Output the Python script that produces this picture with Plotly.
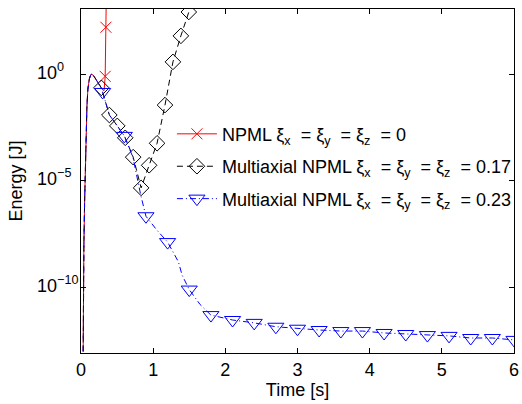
import numpy as np
import plotly.graph_objects as go

# ---- data -------------------------------------------------------------
# shared start-up transient (all three runs coincide here)
t_rise = [0.030, 0.034, 0.040, 0.050, 0.062, 0.072, 0.082, 0.095, 0.115,
          0.135, 0.150, 0.175, 0.200, 0.230, 0.260]
e_rise = [1e-13, 1e-10, 1e-8, 1e-6, 1e-4, 3e-3, 3e-2, 0.2, 0.6,
          0.95, 1.0, 0.85, 0.65, 0.45, 0.30]

# NPML, xi = 0 (unstable)
t_npml = [0.290, 0.320, 0.335, 0.345, 0.352]
e_npml = [0.20, 0.17, 0.80, 160.0, 1e4]
t_npml_mk = [0.335, 0.345]
e_npml_mk = [0.80, 160.0]

# multiaxial NPML, xi = 0.17
t_m17_mk = [0.282, 0.393, 0.503, 0.613, 0.723, 0.833, 0.944, 1.054,
            1.164, 1.274, 1.384, 1.494]
e_m17_mk = [0.23, 1.23e-2, 3.8e-3, 1.05e-3, 1.3e-4, 4.7e-6, 5.4e-5,
            5.8e-4, 3.6e-2, 3.8, 63.0, 830.0]
t_m17_tail = [1.530]
e_m17_tail = [1e4]

# multiaxial NPML, xi = 0.23
t_m23_mk = [0.3, 0.6, 0.9, 1.2, 1.5, 1.8, 2.1, 2.4, 2.7, 3.0, 3.3, 3.6,
            3.9, 4.2, 4.5, 4.8, 5.1, 5.4, 5.7, 6.0]
e_m23_mk = [0.148, 1.29e-3, 2.2e-7, 1.35e-8, 8e-11, 5.1e-12, 3.0e-12,
            2.2e-12, 1.45e-12, 1.17e-12, 1.02e-12, 9.1e-13, 9.1e-13,
            7.4e-13, 6.6e-13, 5.9e-13, 5.4e-13, 4.3e-13, 4.3e-13, 3.5e-13]
t_m23_extra = [0.393, 0.503, 0.72, 0.83, 1.05, 1.35, 1.40, 1.65]
e_m23_extra = [1.23e-2, 3.8e-3, 1.26e-4, 2.0e-6, 5.0e-8, 1.6e-9, 3.9e-10, 1.6e-11]

y_ticks = [1e-10, 1e-5, 1.0]
y_tick_text = ["10<sup>−10</sup>", "10<sup>−5</sup>", "10<sup>0</sup>"]
x_ticks = [0, 1, 2, 3, 4, 5, 6]

NB = "\u00a0"
XI = (f"ξ<sub>x</sub>{NB} = ξ<sub>y</sub>{NB} = ξ<sub>z</sub>{NB} = ")
names = ["NPML " + XI + "0",
         "Multiaxial NPML " + XI + "0.17",
         "Multiaxial NPML " + XI + "0.23"]

FONT = "Liberation Sans, Arial, Helvetica, sans-serif"
FS = 18


def merge(ta, ea, tb, eb):
    t = np.concatenate([ta, tb])
    e = np.concatenate([ea, eb])
    o = np.argsort(t, kind="stable")
    return t[o], e[o]


t_r, e_r = merge(t_rise, e_rise, t_npml, e_npml)
t_b, e_b = merge(t_rise, e_rise, t_m17_mk + t_m17_tail, e_m17_mk + e_m17_tail)
t_u, e_u = merge(t_rise, e_rise, t_m23_mk + t_m23_extra, e_m23_mk + e_m23_extra)

series = [
    dict(t=t_r, e=e_r, tm=t_npml_mk, em=e_npml_mk, color="#ff0000",
         dash="solid", symbol="x-thin-open", size=11),
    dict(t=t_b, e=e_b, tm=t_m17_mk, em=e_m17_mk, color="#000000",
         dash="6px,4px", symbol="diamond-open", size=12),
    dict(t=t_u, e=e_u, tm=t_m23_mk, em=e_m23_mk, color="#0000ff",
         dash="6px,3px,1px,3px", symbol="triangle-down-open", size=14),
]

fig = go.Figure()
for i, s in enumerate(series):
    fig.add_trace(go.Scatter(
        x=s["t"], y=s["e"], mode="lines", showlegend=False,
        line=dict(color=s["color"], width=1, dash=s["dash"]),
        cliponaxis=True, hoverinfo="skip"))
    fig.add_trace(go.Scatter(
        x=s["tm"], y=s["em"], mode="markers", showlegend=False,
        marker=dict(symbol=s["symbol"], size=s["size"], color=s["color"],
                    line=dict(width=1, color=s["color"])),
        cliponaxis=True))
    # legend entry
    fig.add_trace(go.Scatter(
        x=[None], y=[None], mode="lines+markers", name=names[i],
        legendgroup=f"g{i}",
        line=dict(color=s["color"], width=1, dash=s["dash"]),
        marker=dict(symbol=s["symbol"], size=s["size"], color=s["color"],
                    line=dict(width=1, color=s["color"]))))

axis_common = dict(showline=True, linecolor="black", linewidth=1,
                   mirror="ticks", ticks="inside", ticklen=5,
                   tickcolor="black", showgrid=False, zeroline=False,
                   automargin=False)

fig.update_xaxes(range=[0, 6], tickvals=x_ticks, ticklabeloverflow="allow",
                 tickfont=dict(family=FONT, size=FS, color="black"),
                 title=dict(text="Time [s]", standoff=2,
                            font=dict(family=FONT, size=FS, color="black")),
                 **axis_common)
fig.update_yaxes(type="log", range=[-13.07, 3.06], tickvals=y_ticks,
                 showticklabels=False,
                 title=dict(text="Energy [J]", standoff=52,
                            font=dict(family=FONT, size=FS, color="black")),
                 **axis_common)

# left-aligned decade labels
for v, txt in zip(y_ticks, y_tick_text):
    fig.add_annotation(x=-0.107, xref="paper", xanchor="left",
                       y=np.log10(v), yref="y", yanchor="middle", yshift=3,
                       text=txt, showarrow=False,
                       font=dict(family=FONT, size=FS, color="black"))

fig.update_layout(
    width=522, height=404,
    margin=dict(l=81, r=5, t=9, b=51),
    paper_bgcolor="white", plot_bgcolor="white",
    font=dict(family=FONT, size=FS, color="black"),
    legend=dict(x=0.21, y=0.69, xanchor="left", yanchor="top",
                bgcolor="rgba(0,0,0,0)", borderwidth=0,
                font=dict(family=FONT, size=FS, color="black"),
                traceorder="grouped", tracegroupgap=6, itemwidth=40),
)

fig.write_html("out.html")
